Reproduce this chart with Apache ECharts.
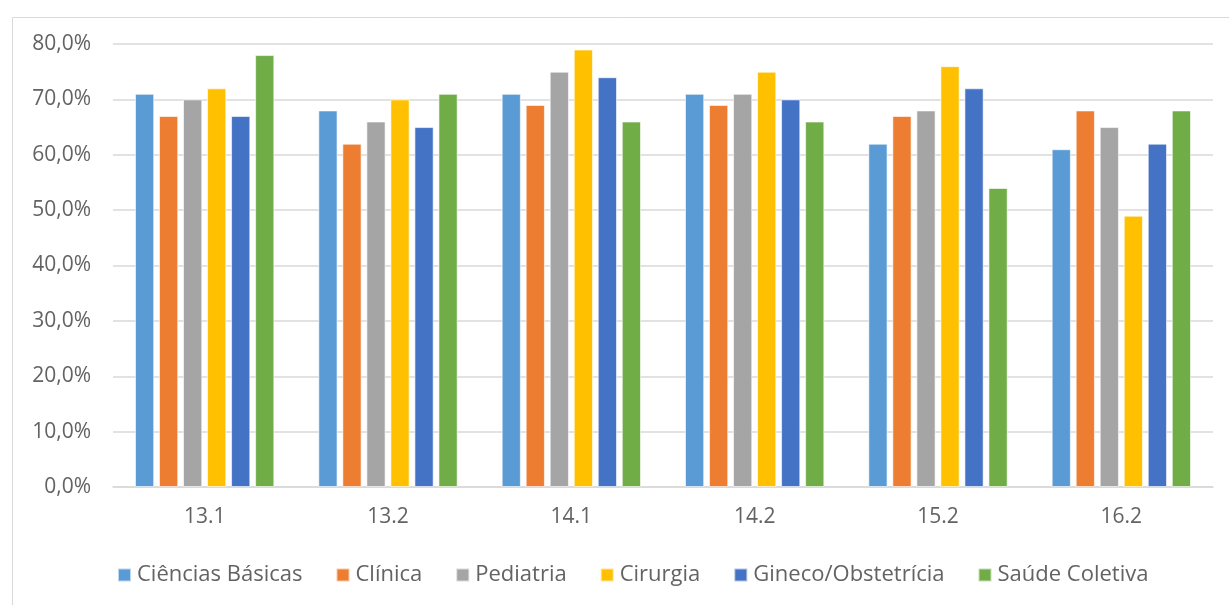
<!DOCTYPE html>
<html>
<head>
<meta charset="utf-8">
<script src="https://cdn.jsdelivr.net/npm/echarts@6/dist/echarts.min.js"></script>
<style>
html,body{margin:0;padding:0;background:#fff;}
#c{width:1229px;height:605px;}
</style>
</head>
<body>
<div id="c"></div>
<script>
const categories = ['13.1', '13.2', '14.1', '14.2', '15.2', '16.2'];
const seriesNames = ['Ciências Básicas', 'Clínica', 'Pediatria', 'Cirurgia', 'Gineco/Obstetrícia', 'Saúde Coletiva'];
const cienciasBasicas = [71, 68, 71, 71, 62, 61];
const clinica = [67, 62, 69, 69, 67, 68];
const pediatria = [70, 66, 75, 71, 68, 65];
const cirurgia = [72, 70, 79, 75, 76, 49];
const gineco = [67, 65, 74, 70, 72, 62];
const saudeColetiva = [78, 71, 66, 66, 54, 68];
const colors = ['#5B9BD5', '#ED7D31', '#A5A5A5', '#FFC000', '#4472C4', '#70AD47'];

const allValues = [cienciasBasicas, clinica, pediatria, cirurgia, gineco, saudeColetiva];
const font = 'Open Sans';
const chart = echarts.init(document.getElementById('c'));
chart.setOption({
  animation: false,
  color: colors,
  graphic: [{
    type: 'rect', left: 10, top: 15, silent: true,
    shape: { width: 1240, height: 620 },
    style: { fill: 'none', stroke: '#d9d9d9', lineWidth: 1 }
  }],
  grid: { left: 113, right: 16, top: 44, bottom: 118 },
  legend: {
    top: 564, left: 117, padding: 0,
    itemWidth: 13, itemHeight: 13, itemGap: 33,
    icon: 'rect',
    textStyle: { color: '#636363', fontSize: 22, fontFamily: font, padding: [0, 0, 0, 1] }
  },
  xAxis: {
    type: 'category', data: categories,
    axisLine: { lineStyle: { color: '#d9d9d9', width: 1.5 } },
    axisTick: { show: false },
    axisLabel: { color: '#636363', fontSize: 21, fontFamily: font, margin: 20 }
  },
  yAxis: {
    type: 'value', min: 0, max: 80, interval: 10,
    axisLine: { show: false }, axisTick: { show: false },
    splitLine: { lineStyle: { color: '#d9d9d9', width: 1.5 } },
    axisLabel: {
      color: '#636363', fontSize: 21, fontFamily: font, margin: 22,
      formatter: v => v.toFixed(1).replace('.', ',') + '%'
    }
  },
  series: seriesNames.map((n, i) => ({
    name: n, type: 'bar', data: allValues[i],
    barGap: '25%', barCategoryGap: '24%',
    itemStyle: { borderColor: 'rgba(255,255,255,0.6)', borderWidth: 1 }
  }))
});
</script>
</body>
</html>
